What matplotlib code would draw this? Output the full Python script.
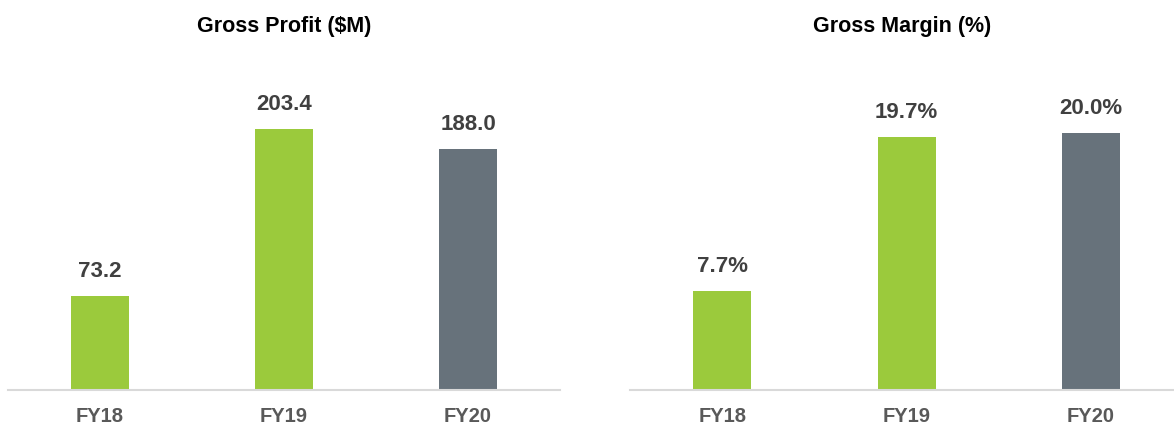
import matplotlib.pyplot as plt

plt.rcParams['font.family'] = ['Liberation Sans', 'DejaVu Sans']

anos = ['FY18', 'FY19', 'FY20']
lucro_bruto = [73.2, 203.4, 188.0]
margem_bruta = [7.7, 19.7, 20.0]
rotulos_lucro = ['73.2', '203.4', '188.0']
rotulos_margem = ['7.7%', '19.7%', '20.0%']

VERDE = '#9BCA3C'
CINZA = '#67727B'
cores = [VERDE, VERDE, CINZA]


def desenhar(ax, valores, rotulos, titulo, ymax, xmax):
    barras = ax.bar(range(len(anos)), valores, width=0.315, color=cores)
    ax.bar_label(barras, labels=rotulos, padding=10, fontsize=16,
                 fontweight='bold', color='#404040')
    ax.set_xlim(-0.5, xmax)
    ax.set_ylim(0, ymax)
    ax.set_xticks(range(len(anos)))
    ax.set_xticklabels(anos, fontsize=14.5, fontweight='bold', color='#595959')
    ax.tick_params(axis='x', length=0, pad=12)
    ax.set_yticks([])
    for lado in ['top', 'right', 'left']:
        ax.spines[lado].set_visible(False)
    ax.spines['bottom'].set_color('#D9D9D9')
    ax.spines['bottom'].set_linewidth(1.5)
    ax.set_title(titulo, fontsize=15.5, fontweight='bold', color='black', pad=20)


fig = plt.figure(figsize=(11.74, 4.23), dpi=100)
ax1 = fig.add_axes([8 / 1174, 33 / 423, 552 / 1174, 330 / 423])
ax2 = fig.add_axes([630 / 1174, 33 / 423, 544 / 1174, 330 / 423])

desenhar(ax1, lucro_bruto, rotulos_lucro, 'Gross Profit ($M)', 257.4, 2.5)
desenhar(ax2, margem_bruta, rotulos_margem, 'Gross Margin (%)', 25.7, 2.45)

fig.savefig('out.png', dpi=100)
